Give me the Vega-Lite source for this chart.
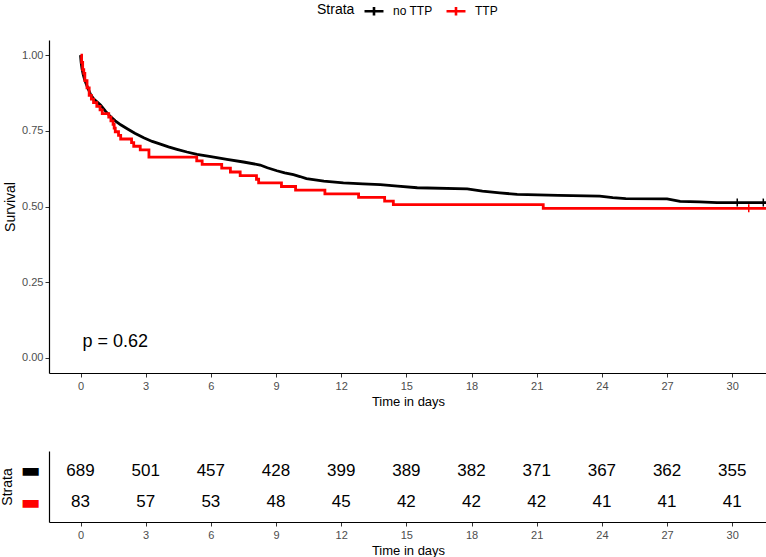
{
  "$schema": "https://vega.github.io/schema/vega-lite/v6.json",
  "padding": {"left": 0, "top": 0, "right": 0, "bottom": 0},
  "autosize": {"type": "pad"},
  "spacing": 43,
  "config": {
    "view": {"stroke": null},
    "font": "Liberation Sans",
    "axis": {
      "grid": false,
      "domainColor": "black",
      "domainWidth": 1.2,
      "tickColor": "#333333",
      "tickSize": 4,
      "labelColor": "#4d4d4d",
      "labelFontSize": 11,
      "labelPadding": 3,
      "titleFontSize": 13,
      "titleFontWeight": "normal",
      "titleColor": "black"
    }
  },
  "resolve": {"scale": {"color": "independent", "stroke": "independent"}},
  "datasets": {
    "curves": [
      {"strata": "no TTP", "t": 0, "s": 1.0},
      {"strata": "no TTP", "t": 0.03, "s": 0.975},
      {"strata": "no TTP", "t": 0.07, "s": 0.955},
      {"strata": "no TTP", "t": 0.12, "s": 0.937},
      {"strata": "no TTP", "t": 0.18, "s": 0.922},
      {"strata": "no TTP", "t": 0.25, "s": 0.907},
      {"strata": "no TTP", "t": 0.35, "s": 0.889},
      {"strata": "no TTP", "t": 0.46, "s": 0.871},
      {"strata": "no TTP", "t": 0.6, "s": 0.856},
      {"strata": "no TTP", "t": 0.77, "s": 0.845},
      {"strata": "no TTP", "t": 0.92, "s": 0.835},
      {"strata": "no TTP", "t": 1.15, "s": 0.815},
      {"strata": "no TTP", "t": 1.38, "s": 0.797},
      {"strata": "no TTP", "t": 1.6, "s": 0.783},
      {"strata": "no TTP", "t": 1.85, "s": 0.77},
      {"strata": "no TTP", "t": 2.15, "s": 0.757},
      {"strata": "no TTP", "t": 2.5, "s": 0.742},
      {"strata": "no TTP", "t": 2.91, "s": 0.727},
      {"strata": "no TTP", "t": 3.3, "s": 0.715},
      {"strata": "no TTP", "t": 3.68, "s": 0.706},
      {"strata": "no TTP", "t": 4.05, "s": 0.697},
      {"strata": "no TTP", "t": 4.44, "s": 0.689},
      {"strata": "no TTP", "t": 4.9, "s": 0.68},
      {"strata": "no TTP", "t": 5.36, "s": 0.672},
      {"strata": "no TTP", "t": 6.0, "s": 0.665},
      {"strata": "no TTP", "t": 6.74, "s": 0.656},
      {"strata": "no TTP", "t": 7.5, "s": 0.647},
      {"strata": "no TTP", "t": 8.27, "s": 0.637},
      {"strata": "no TTP", "t": 8.6, "s": 0.628},
      {"strata": "no TTP", "t": 9.04, "s": 0.618},
      {"strata": "no TTP", "t": 9.4, "s": 0.611},
      {"strata": "no TTP", "t": 9.8, "s": 0.605},
      {"strata": "no TTP", "t": 10.1, "s": 0.599},
      {"strata": "no TTP", "t": 10.4, "s": 0.592},
      {"strata": "no TTP", "t": 11.2, "s": 0.584},
      {"strata": "no TTP", "t": 12.1, "s": 0.578},
      {"strata": "no TTP", "t": 13.0, "s": 0.575},
      {"strata": "no TTP", "t": 13.8, "s": 0.572},
      {"strata": "no TTP", "t": 14.6, "s": 0.567},
      {"strata": "no TTP", "t": 15.5, "s": 0.562},
      {"strata": "no TTP", "t": 17.8, "s": 0.558},
      {"strata": "no TTP", "t": 18.5, "s": 0.551},
      {"strata": "no TTP", "t": 19.3, "s": 0.545},
      {"strata": "no TTP", "t": 20.1, "s": 0.54},
      {"strata": "no TTP", "t": 22.0, "s": 0.537},
      {"strata": "no TTP", "t": 23.9, "s": 0.534},
      {"strata": "no TTP", "t": 24.5, "s": 0.529},
      {"strata": "no TTP", "t": 25.1, "s": 0.526},
      {"strata": "no TTP", "t": 27.0, "s": 0.525},
      {"strata": "no TTP", "t": 27.3, "s": 0.521},
      {"strata": "no TTP", "t": 27.6, "s": 0.517},
      {"strata": "no TTP", "t": 28.5, "s": 0.515},
      {"strata": "no TTP", "t": 29.3, "s": 0.513},
      {"strata": "no TTP", "t": 31.6, "s": 0.513},
      {"strata": "TTP", "t": 0, "s": 1.0},
      {"strata": "TTP", "t": 0.05, "s": 0.976},
      {"strata": "TTP", "t": 0.1, "s": 0.952},
      {"strata": "TTP", "t": 0.15, "s": 0.94},
      {"strata": "TTP", "t": 0.2, "s": 0.916},
      {"strata": "TTP", "t": 0.3, "s": 0.892},
      {"strata": "TTP", "t": 0.4, "s": 0.867},
      {"strata": "TTP", "t": 0.5, "s": 0.855},
      {"strata": "TTP", "t": 0.6, "s": 0.843},
      {"strata": "TTP", "t": 0.75, "s": 0.831},
      {"strata": "TTP", "t": 0.9, "s": 0.819},
      {"strata": "TTP", "t": 1.0, "s": 0.807},
      {"strata": "TTP", "t": 1.3, "s": 0.795},
      {"strata": "TTP", "t": 1.4, "s": 0.783},
      {"strata": "TTP", "t": 1.5, "s": 0.771},
      {"strata": "TTP", "t": 1.55, "s": 0.759},
      {"strata": "TTP", "t": 1.6, "s": 0.747},
      {"strata": "TTP", "t": 1.75, "s": 0.735},
      {"strata": "TTP", "t": 1.85, "s": 0.723},
      {"strata": "TTP", "t": 2.35, "s": 0.711},
      {"strata": "TTP", "t": 2.45, "s": 0.699},
      {"strata": "TTP", "t": 2.75, "s": 0.687},
      {"strata": "TTP", "t": 3.15, "s": 0.663},
      {"strata": "TTP", "t": 5.35, "s": 0.651},
      {"strata": "TTP", "t": 5.6, "s": 0.639},
      {"strata": "TTP", "t": 6.5, "s": 0.627},
      {"strata": "TTP", "t": 6.9, "s": 0.614},
      {"strata": "TTP", "t": 7.35, "s": 0.602},
      {"strata": "TTP", "t": 8.1, "s": 0.59},
      {"strata": "TTP", "t": 8.2, "s": 0.578},
      {"strata": "TTP", "t": 9.25, "s": 0.566},
      {"strata": "TTP", "t": 9.9, "s": 0.554},
      {"strata": "TTP", "t": 11.25, "s": 0.542},
      {"strata": "TTP", "t": 12.8, "s": 0.53},
      {"strata": "TTP", "t": 14.0, "s": 0.518},
      {"strata": "TTP", "t": 14.4, "s": 0.506},
      {"strata": "TTP", "t": 21.3, "s": 0.494},
      {"strata": "TTP", "t": 31.6, "s": 0.494}
    ],
    "censor": [
      {"strata": "no TTP", "t": 30.23, "s": 0.513},
      {"strata": "no TTP", "t": 31.43, "s": 0.513},
      {"strata": "TTP", "t": 30.76, "s": 0.494}
    ],
    "risk": [
      {"strata": "no TTP", "t": 0, "n": 689},
      {"strata": "no TTP", "t": 3, "n": 501},
      {"strata": "no TTP", "t": 6, "n": 457},
      {"strata": "no TTP", "t": 9, "n": 428},
      {"strata": "no TTP", "t": 12, "n": 399},
      {"strata": "no TTP", "t": 15, "n": 389},
      {"strata": "no TTP", "t": 18, "n": 382},
      {"strata": "no TTP", "t": 21, "n": 371},
      {"strata": "no TTP", "t": 24, "n": 367},
      {"strata": "no TTP", "t": 27, "n": 362},
      {"strata": "no TTP", "t": 30, "n": 355},
      {"strata": "TTP", "t": 0, "n": 83},
      {"strata": "TTP", "t": 3, "n": 57},
      {"strata": "TTP", "t": 6, "n": 53},
      {"strata": "TTP", "t": 9, "n": 48},
      {"strata": "TTP", "t": 12, "n": 45},
      {"strata": "TTP", "t": 15, "n": 42},
      {"strata": "TTP", "t": 18, "n": 42},
      {"strata": "TTP", "t": 21, "n": 42},
      {"strata": "TTP", "t": 24, "n": 41},
      {"strata": "TTP", "t": 27, "n": 41},
      {"strata": "TTP", "t": 30, "n": 41}
    ],
    "pval": [{"label": "p = 0.62", "t": 0, "s": 0.053}]
  },
  "vconcat": [
    {
      "width": 718,
      "height": 333,
      "layer": [
        {
          "data": {"name": "curves"},
          "transform": [{"filter": "datum.strata === 'no TTP'"}],
          "mark": {"type": "line", "strokeWidth": 2.8, "interpolate": "linear"},
          "encoding": {
            "x": {"field": "t", "type": "quantitative", "scale": {"domain": [-1.45, 31.6], "nice": false, "zero": false},
                  "axis": {"values": [0, 3, 6, 9, 12, 15, 18, 21, 24, 27, 30], "title": "Time in days", "titlePadding": 4}},
            "y": {"field": "s", "type": "quantitative", "scale": {"domain": [-0.05, 1.05], "nice": false, "zero": false},
                  "axis": {"values": [0, 0.25, 0.5, 0.75, 1], "format": ".2f", "title": "Survival", "titlePadding": 4, "labelPadding": 2, "titleFontSize": 14}},
            "color": {
              "field": "strata", "type": "nominal",
              "scale": {"domain": ["no TTP", "TTP"], "range": ["black", "red"]},
              "legend": {
                "orient": "none", "legendX": 268, "legendY": -40,
                "direction": "horizontal", "title": "Strata", "titleOrient": "left",
                "titleFontSize": 14, "titleFontWeight": "normal", "titleColor": "black", "titlePadding": 8,
                "labelFontSize": 12, "labelColor": "black", "labelOffset": 8, "columnPadding": 8,
                "symbolType": "M-1,0H1M0,-0.45V0.45", "symbolSize": 360, "symbolStrokeWidth": 2.6
              }
            }
          }
        },
        {
          "data": {"name": "curves"},
          "transform": [{"filter": "datum.strata === 'TTP'"}],
          "mark": {"type": "line", "strokeWidth": 2.8, "interpolate": "step-after"},
          "encoding": {
            "x": {"field": "t", "type": "quantitative"},
            "y": {"field": "s", "type": "quantitative"},
            "color": {"field": "strata", "type": "nominal"}
          }
        },
        {
          "data": {"name": "censor"},
          "mark": {"type": "point", "shape": "M0,-1V1", "size": 64, "strokeWidth": 1.5, "filled": false, "opacity": 1},
          "encoding": {
            "x": {"field": "t", "type": "quantitative"},
            "y": {"field": "s", "type": "quantitative"},
            "stroke": {"field": "strata", "type": "nominal", "scale": {"domain": ["no TTP", "TTP"], "range": ["black", "red"]}, "legend": null}
          }
        },
        {
          "data": {"name": "pval"},
          "mark": {"type": "text", "fontSize": 18, "align": "left", "baseline": "middle", "dx": 2, "color": "black"},
          "encoding": {
            "x": {"field": "t", "type": "quantitative"},
            "y": {"field": "s", "type": "quantitative"},
            "text": {"field": "label"}
          }
        }
      ]
    },
    {
      "width": 718,
      "height": 71,
      "data": {"name": "risk"},
      "mark": {"type": "text", "fontSize": 17, "color": "black"},
      "encoding": {
        "x": {"field": "t", "type": "quantitative", "scale": {"domain": [-1.45, 31.6], "nice": false, "zero": false},
              "axis": {"values": [0, 3, 6, 9, 12, 15, 18, 21, 24, 27, 30], "title": "Time in days", "titlePadding": 4}},
        "y": {"field": "strata", "type": "ordinal", "scale": {"type": "point", "domain": ["no TTP", "TTP"], "padding": 0.61},
              "axis": {"title": "Strata", "titleFontSize": 14, "titlePadding": 6, "ticks": false, "labelExpr": "'▬'",
                       "labelFont": "DejaVu Sans", "labelFontSize": 21, "labelPadding": 9,
                       "labelColor": {"condition": {"test": "datum.value === 'TTP'", "value": "red"}, "value": "black"}}},
        "text": {"field": "n", "type": "quantitative"}
      }
    }
  ]
}
